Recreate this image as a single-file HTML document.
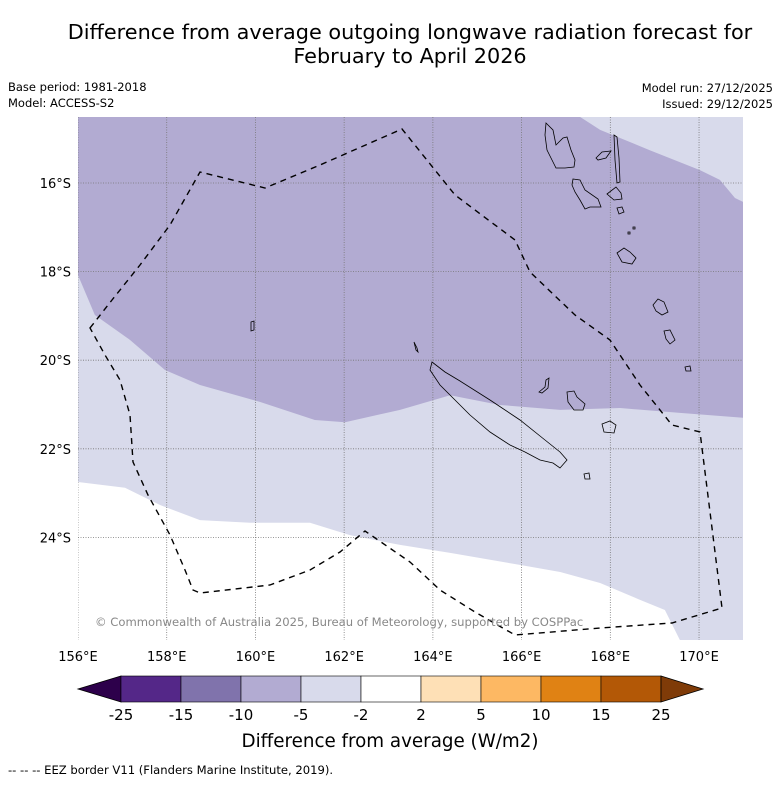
<!DOCTYPE html>
<html><head><meta charset="utf-8">
<style>
body{margin:0;background:#fff;}
svg text{font-family:"DejaVu Sans","Liberation Sans",sans-serif;}
</style></head>
<body>
<svg id="chart" width="781" height="781" viewBox="0 0 781 781" xmlns="http://www.w3.org/2000/svg">
<text x="410" y="39" font-size="20.8" text-anchor="middle">Difference from average outgoing longwave radiation forecast for</text>
<text x="410" y="63" font-size="20.8" text-anchor="middle">February to April 2026</text>
<text x="8" y="91" font-size="11.5">Base period: 1981-2018</text>
<text x="8" y="107" font-size="11.5">Model: ACCESS-S2</text>
<text x="773" y="92" font-size="11.5" text-anchor="end">Model run: 27/12/2025</text>
<text x="773" y="108" font-size="11.5" text-anchor="end">Issued: 29/12/2025</text>
<defs><clipPath id="mapclip"><rect x="78" y="117" width="665" height="523"/></clipPath></defs>
<g id="map" clip-path="url(#mapclip)"></g>
<g id="overlay"></g>
<g id="cbar"></g>
<text x="390" y="747" font-size="18.3" text-anchor="middle">Difference from average (W/m2)</text>
<text x="8" y="774" font-size="11.6">--  --  -- EEZ border V11 (Flanders Marine Institute, 2019).</text>
</svg>
<script>
const NS="http://www.w3.org/2000/svg";
// map data (lon, south latitude)
const lonTicks=[156,158,160,162,164,166,168,170];
const latTicks=[16,18,20,22,24];
const purpleBoundLon=[156.0,156.38,157.17,157.96,158.75,160.10,161.34,162.02,163.26,164.39,165.51,166.87,168.22,169.57,171.0];
const purpleBoundLat=[18.08,18.98,19.54,20.22,20.56,20.94,21.35,21.40,21.12,20.79,21.01,21.12,21.08,21.19,21.30];
const topLightLon=[167.32,167.77,168.89,170.02,170.47,170.81,171.0];
const topLightLat=[14.51,14.80,15.26,15.71,15.93,16.34,16.43];
const lightBoundLon=[156.0,157.06,157.85,158.75,159.88,161.23,162.13,163.26,164.39,165.96,166.87,167.77,168.67,169.23,169.57];
const lightBoundLat=[22.75,22.88,23.27,23.61,23.67,23.67,23.95,24.17,24.35,24.62,24.78,25.03,25.41,25.64,26.32];
// colorbar data
const cbLevels=[-25,-15,-10,-5,-2,2,5,10,15,25];
const cbColors=["#542788","#8073ac","#b2abd2","#d8daeb","#ffffff","#fee0b6","#fdb863","#e08214","#b35806"];
const cbUnder="#2d004b", cbOver="#7f3b08";

const X=lon=>78+(lon-156)*44.36;
const Y=lat=>183+(lat-16)*44.3;
const map=document.getElementById('map');
function mk(tag,attrs,parent){const e=document.createElementNS(NS,tag);for(const k in attrs)e.setAttribute(k,attrs[k]);parent.appendChild(e);return e;}

let r=mk('rect',{x:78,y:117,width:665,height:523,fill:'#b2abd2'},map);


let d='M'+purpleBoundLon.map((l,i)=>X(l)+','+Y(purpleBoundLat[i])).join(' L')+' L743,640 L78,640 Z';
let p=mk('path',{d:d,fill:'#d8daeb'},map);


d='M'+topLightLon.map((l,i)=>X(l)+','+Y(topLightLat[i])).join(' L')+' L743,117 Z';
p=mk('path',{d:d,fill:'#d8daeb'},map);


d='M'+lightBoundLon.map((l,i)=>X(l)+','+Y(lightBoundLat[i])).join(' L')+' L'+X(169.57)+',650 L70,650 Z';
p=mk('path',{d:d,fill:'#ffffff'},map);


lonTicks.forEach(l=>{const g=mk('line',{x1:X(l),x2:X(l),y1:117,y2:640,stroke:'#777',"stroke-width":0.8,"stroke-dasharray":"1,1.5"},map);

});
latTicks.forEach(l=>{const g=mk('line',{x1:78,x2:743,y1:Y(l),y2:Y(l),stroke:'#777',"stroke-width":0.8,"stroke-dasharray":"1,1.5"},map);

});
const islands=[
"M432,362 L445,372 L460,381 L490,400 L520,420 L545,440 L560,452 L567,460 L560,468 L553,463 L540,460 L525,452 L510,445 L490,432 L470,415 L455,400 L440,385 L430,370 Z",
"M546,123 L553,130 L556,145 L563,138 L567,137 L571,150 L575,160 L574,167 L565,168 L556,168 L552,160 L547,150 L545,135 Z",
"M573,179 L580,180 L585,190 L598,199 L601,207 L590,207 L585,209 L580,200 L575,192 L572,185 Z",
"M614,135 L617,137 L619,158 L620,182 L617,183 L615,160 Z",
"M596,158 L602,152 L611,151 L606,158 L598,160 Z",
"M607,194 L616,187 L621,193 L622,199 L614,200 Z",
"M617,208 L622,207 L624,212 L619,214 Z",
"M617,253 L624,248 L630,252 L636,258 L632,264 L622,262 Z",
"M653,305 L658,299 L664,302 L668,312 L662,315 L656,311 Z",
"M664,331 L670,330 L675,340 L670,344 L666,339 Z",
"M685,367 L690,366 L691,371 L686,371 Z",
"M539,392 L545,387 L546,380 L549,378 L548,388 L542,393 Z",
"M567,392 L574,391 L577,397 L585,404 L583,410 L574,410 L568,402 Z",
"M602,424 L610,421 L616,425 L614,433 L604,432 Z",
"M584,474 L589,473 L590,479 L585,479 Z",
"M414,342 L417,348 L418,352 L416,350 Z",
"M251,322 L254,321 L254,330 L251,331 Z",
"M628,232 L630,232 L630,234 L628,234 Z",
"M633,227 L635,227 L635,229 L633,229 Z"];
islands.forEach(s=>{const i=mk('path',{d:s,fill:'none',stroke:'#000',"stroke-width":0.8},map);

});
const eez=mk('path',{d:"M90,328 L112,300 L140,265 L170,225 L200,172 L265,188 L320,165 L402,129 L455,195 L515,240 L530,272 L575,315 L610,340 L640,385 L672,425 L700,432 L722,608 L672,623 L600,628 L515,635 L475,612 L440,590 L410,562 L365,531 L340,552 L310,570 L270,585 L200,593 L193,590 L185,570 L170,535 L148,495 L133,462 L130,415 L120,380 L105,355 Z",fill:'none',stroke:'#000',"stroke-width":1.4,"stroke-dasharray":"6,5"},map);


const cr=mk('text',{x:95,y:626,"font-size":11.6,fill:'#888'},map);
cr.textContent='© Commonwealth of Australia 2025, Bureau of Meteorology, supported by COSPPac';


const ov=document.getElementById('overlay');
lonTicks.forEach(l=>{const t=mk('text',{x:X(l),y:661,"font-size":13,"text-anchor":"middle"},ov);t.textContent=l+'°E';

});
latTicks.forEach(l=>{const t=mk('text',{x:71,y:Y(l)+5,"font-size":13,"text-anchor":"end"},ov);t.textContent=l+'°S';

});
const cb=document.getElementById('cbar');
const cx0=121,cw=60,cy=676,ch=26;
const CX=i=>cx0+i*cw;
let tri=mk('path',{d:`M${CX(0)},${cy} L78,${cy+ch/2} L${CX(0)},${cy+ch} Z`,fill:cbUnder,stroke:'#000',"stroke-width":0.8},cb);


cbColors.forEach((c,i)=>{const b=mk('rect',{x:CX(i),y:cy,width:cw,height:ch,fill:c,stroke:'#000',"stroke-width":0.6},cb);

});
const last=CX(cbColors.length);
tri=mk('path',{d:`M${last},${cy} L${last+42},${cy+ch/2} L${last},${cy+ch} Z`,fill:cbOver,stroke:'#000',"stroke-width":0.8},cb);


cbLevels.forEach((v,i)=>{const t=mk('text',{x:CX(i),y:720,"font-size":15,"text-anchor":"middle"},cb);t.textContent=v;

});
</script>
</body></html>
